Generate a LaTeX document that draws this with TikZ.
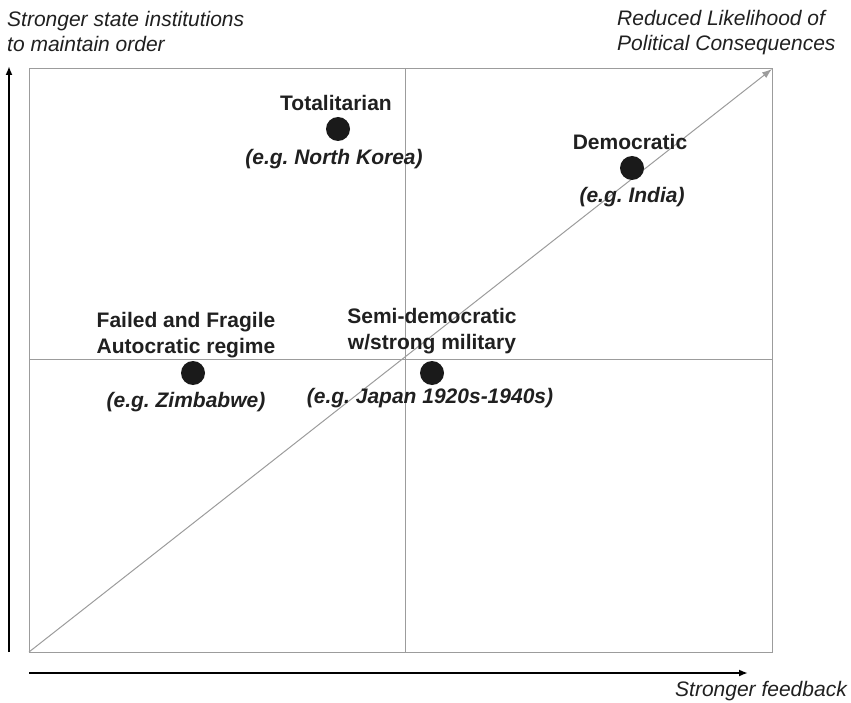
\documentclass[tikz,border=0pt]{standalone}
\usepackage{fontspec}
\setmainfont{Liberation Sans}
\usepackage{tikz}
\usetikzlibrary{arrows.meta,positioning}
\definecolor{gridgray}{HTML}{9C9C9C}
\definecolor{dotblack}{HTML}{1A1A1A}
\definecolor{inkblack}{HTML}{202020}
\newcommand{\Regime}[1]{\textbf{#1}}
\newcommand{\Example}[1]{\textbf{\textit{#1}}}
\frenchspacing
\tikzset{
  every node/.style={text=inkblack,font=\fontsize{21}{25.5}\selectfont,inner sep=0pt},
  regimedot/.style={circle,fill=dotblack,minimum size=24pt},
  gridline/.style={draw=gridgray,line width=1pt},
  axisline/.style={draw=black,line width=1.8pt,-{Latex[length=9pt,width=7pt]}}
}

\begin{document}
\begin{tikzpicture}[x=1pt,y=-1pt]
\useasboundingbox (0,0) rectangle (851,703);
% frame of the chart
\coordinate (bl) at (29,652);
\coordinate (tr) at (772,69);
\coordinate (tm) at (405,69);
\coordinate (bm) at (405,652);
\coordinate (lm) at (29,359);
\coordinate (rm) at (772,359);
\draw[gridline] (bl) rectangle (tr);
\draw[gridline] (tm) -- (bm);
\draw[gridline] (lm) -- (rm);
\draw[gridline,-{Latex[length=10pt,width=7pt]}] (bl) -- (tr);
%
% axes
\coordinate (ybot) at (9,652);
\coordinate (ytop) at (9,66);
\coordinate (xleft) at (29,673);
\coordinate (xright) at (748,673);
\draw[axisline] (ybot) -- (ytop);
\draw[axisline] (xleft) -- (xright);
%
\node (ylab) [anchor=north west,align=left] at (7,11) {\itshape Stronger state institutions\\\itshape to maintain order};
\node (dlab) [anchor=north west,align=left] at (617,10) {\itshape Reduced Likelihood of\\\itshape Political Consequences};
\node (xlab) [anchor=base east] at (847,696) {\itshape Stronger feedback};
%
% regimes
\node (tot) [regimedot] at (338,129) {};
\node (totname) at (336,103) {\Regime{Totalitarian}};
\node (totex) at (334,159) {\Example{(e.g. North Korea)}};
%
\node (dem) [regimedot] at (632,168) {};
\node (demname) at (630,142) {\Regime{Democratic}};
\node (demex) at (632,197) {\Example{(e.g. India)}};
%
\node (fail) [regimedot] at (193,373) {};
\node (failname) [align=center] at (186,335) {\Regime{Failed and Fragile}\\\Regime{Autocratic regime}};
\node (failex) at (186,402) {\Example{(e.g. Zimbabwe)}};
%
\node (semi) [regimedot] at (432,373) {};
\node (seminame) [align=center] at (432,331) {\Regime{Semi-democratic}\\\Regime{w/strong military}};
\node (semiex) at (430,398) {\Example{(e.g. Japan 1920s-1940s)}};
\end{tikzpicture}
\end{document}
